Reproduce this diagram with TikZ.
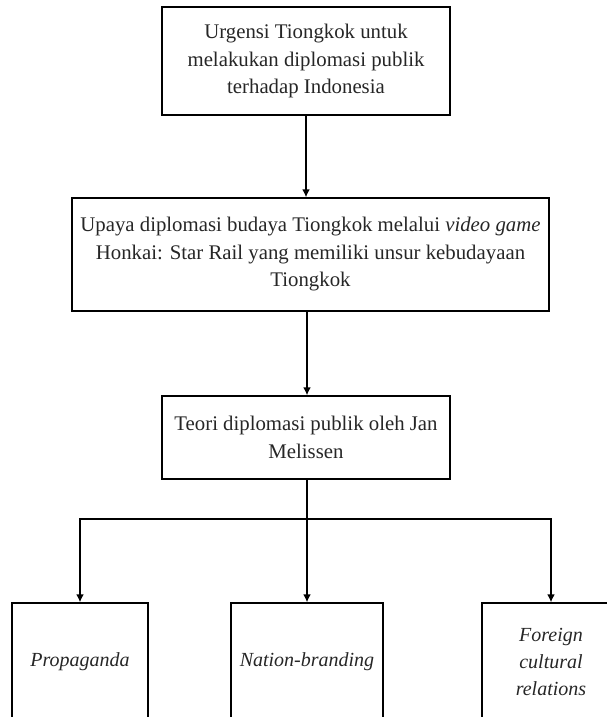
\documentclass[tikz,border=0pt]{standalone}
\usepackage{fontspec}
\setmainfont{Liberation Serif}
\usetikzlibrary{arrows.meta}
\begin{document}
\begin{tikzpicture}[x=1pt,y=-1pt,
  box/.style={draw=black,line width=1.4pt,inner sep=0pt,align=center,
    font=\fontsize{20.8}{27.5}\selectfont,text=black!85},
  leaf/.style={box,font=\fontsize{20}{27}\selectfont\itshape},
  arr/.style={line width=2pt,-{Latex[length=8pt,width=8pt]}}]
\useasboundingbox (0,0) rectangle (607,717);
\clip (0,0) rectangle (607,717);
\node[box,minimum width=288,minimum height=108] (b1) at (306,61)
  {Urgensi Tiongkok untuk\\melakukan diplomasi publik\\terhadap Indonesia};
\node[box,minimum width=477,minimum height=113] (b2) at (310.5,254.5)
  {Upaya diplomasi budaya Tiongkok melalui \textit{video game}\\Honkai: Star Rail yang memiliki unsur kebudayaan\\Tiongkok};
\node[box,minimum width=288,minimum height=83] (b3) at (306,437.5)
  {Teori diplomasi publik oleh Jan\\Melissen};
\node[leaf,minimum width=136,minimum height=118] (bA) at (80,662)
  {Propaganda};
\node[leaf,minimum width=152,minimum height=118] (bB) at (307,662)
  {Nation-branding};
\node[leaf,minimum width=138,minimum height=118] (bC) at (551,662)
  {Foreign\\cultural\\relations};
\coordinate (j) at (307,519);
\draw[arr] (b1.south) -- (b1.south |- b2.north);
\draw[arr] (b2.south -| j) -- (b3.north -| j);
\draw[line width=2pt] (b3.south -| j) -- (j);
\draw[arr] (j) -| (bA.north);
\draw[arr] (j) -- (bB.north);
\draw[arr] (j) -| (bC.north);
\end{tikzpicture}
\end{document}
